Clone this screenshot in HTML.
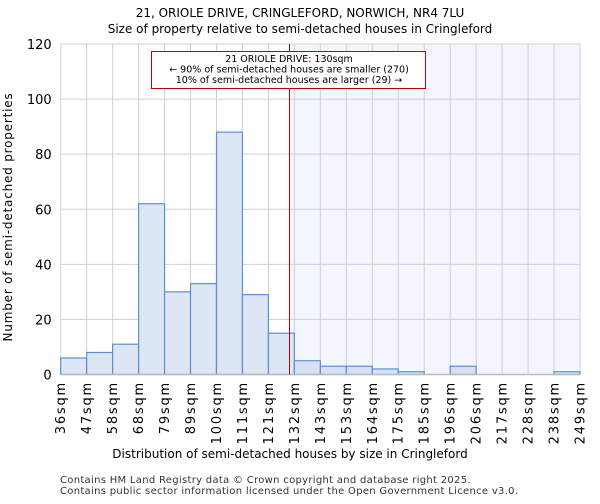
<!DOCTYPE html>
<html><head><meta charset="utf-8"><style>
body{margin:0;background:#fff;font-family:"DejaVu Sans","Liberation Sans",sans-serif}
</style></head><body>
<svg width="600" height="500" xmlns="http://www.w3.org/2000/svg" font-family="DejaVu Sans, Liberation Sans, sans-serif">
<text x="300" y="17" text-anchor="middle" font-size="12">21, ORIOLE DRIVE, CRINGLEFORD, NORWICH, NR4 7LU</text>
<text x="300" y="33" text-anchor="middle" font-size="12">Size of property relative to semi-detached houses in Cringleford</text>
<g id="plot"></g>
<text x="290" y="458" text-anchor="middle" font-size="12">Distribution of semi-detached houses by size in Cringleford</text>
<text transform="translate(12,217) rotate(-90)" text-anchor="middle" font-size="12" letter-spacing="0.8">Number of semi-detached properties</text>
<text x="60" y="483" font-size="10" letter-spacing="0.3" fill="#333">Contains HM Land Registry data © Crown copyright and database right 2025.</text>
<text x="60" y="494" font-size="10" letter-spacing="0.3" fill="#333">Contains public sector information licensed under the Open Government Licence v3.0.</text>
</svg>
<script>
const binLabels=["36sqm","47sqm","58sqm","68sqm","79sqm","89sqm","100sqm","111sqm","121sqm","132sqm","143sqm","153sqm","164sqm","175sqm","185sqm","196sqm","206sqm","217sqm","228sqm","238sqm","249sqm"];
const counts=[6,8,11,62,30,33,88,29,15,5,3,3,2,1,0,3,0,0,0,1];
const yTicks=[0,20,40,60,80,100,120];
const L=60.7,R=580,T=44,B=374.5,yMax=120;
const bw=(R-L)/counts.length;
const xs=i=>L+i*bw, ys=v=>B-(v/yMax)*(B-T);
const NS="http://www.w3.org/2000/svg";
const g=document.getElementById('plot');
function mk(tag,a){const e=document.createElementNS(NS,tag);for(const k in a)e.setAttribute(k,a[k]);g.appendChild(e);return e;}
const mx=289.5;
let e=mk('rect',{x:mx,y:T,width:R-mx,height:B-T,fill:'#f3f6fd'});


for(let i=0;i<binLabels.length;i++){const l=mk('line',{x1:xs(i),x2:xs(i),y1:T,y2:B,stroke:'#d0d0d0','stroke-width':1});

}
yTicks.forEach(v=>{const l=mk('line',{x1:L,x2:R,y1:ys(v),y2:ys(v),stroke:'#d0d0d0','stroke-width':1});


const t=mk('text',{x:L-9,y:ys(v)+5,'text-anchor':'end','font-size':13});t.textContent=v;

});
counts.forEach((c,i)=>{if(c<=0)return;const r=mk('rect',{x:xs(i),y:ys(c),width:bw,height:B-ys(c),fill:i>=9?'#d6e1f3':'#dce6f4',stroke:'#5b8fd6','stroke-width':1.2});

});
e=mk('line',{x1:L,x2:R,y1:B,y2:B,stroke:'#bbb','stroke-width':1.5});


binLabels.forEach((s,i)=>{const t=mk('text',{transform:`translate(${xs(i)+4.5},381) rotate(-90)`,'text-anchor':'end','font-size':13,'letter-spacing':1.8});t.textContent=s;

});
e=mk('line',{x1:mx,x2:mx,y1:T,y2:B,stroke:'#b00','stroke-width':1});


e=mk('rect',{x:151.5,y:51.5,width:274,height:37,fill:'#fff',stroke:'#b00','stroke-width':1});


["21 ORIOLE DRIVE: 130sqm","← 90% of semi-detached houses are smaller (270)","10% of semi-detached houses are larger (29) →"].forEach((s,k)=>{const t=mk('text',{x:289,y:62+k*10.5,'text-anchor':'middle','font-size':9.5});t.textContent=s;

});
</script>
</body></html>
